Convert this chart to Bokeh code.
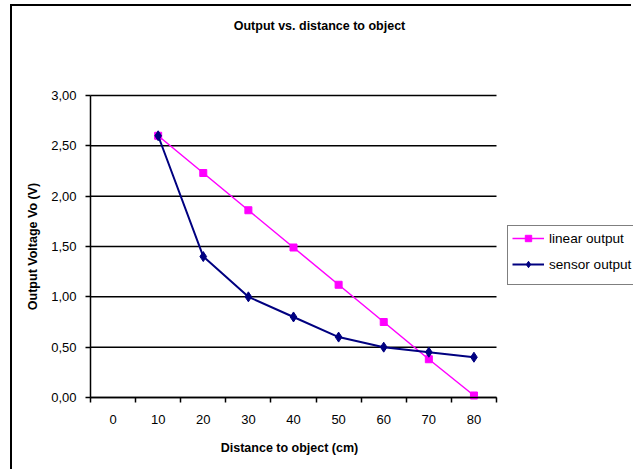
import math
from bokeh.plotting import figure
from bokeh.models import FixedTicker, Legend, LegendItem, Label, Range1d
from bokeh.embed import file_html
from bokeh.resources import INLINE

# ---- data ----
distance = [10, 20, 30, 40, 50, 60, 70, 80]
linear_output = [2.60, 2.23, 1.86, 1.49, 1.12, 0.75, 0.38, 0.02]
sensor_output = [2.60, 1.40, 1.00, 0.80, 0.60, 0.50, 0.45, 0.40]
x_ticks = [0, 10, 20, 30, 40, 50, 60, 70, 80]
x_tick_labels = ["0", "10", "20", "30", "40", "50", "60", "70", "80"]
y_ticks = [0.0, 0.5, 1.0, 1.5, 2.0, 2.5, 3.0]
y_tick_labels = ["0,00", "0,50", "1,00", "1,50", "2,00", "2,50", "3,00"]
title_text = "Output vs. distance to object"
x_title = "Distance to object (cm)"
y_title = "Output Voltage Vo (V)"
series_names = ["linear output", "sensor output"]

FONT = "Liberation Sans"
PINK = "#FF00FF"
NAVY = "#000080"

# axis extents (plot area); the frame covers the whole canvas so that the
# title, axis titles and legend can sit anywhere around the plot area
X_LO, X_HI = -5, 85
Y_LO, Y_HI = 0, 3
px_per_x = 406 / (X_HI - X_LO)
px_per_y = 302 / (Y_HI - Y_LO)
FRAME_W, FRAME_H = 621, 465
AXIS_LEFT_PX = 78             # column of x=-5 inside the frame
ZERO_FROM_TOP = 391           # row of y=0 inside the frame

p = figure(width=FRAME_W, height=FRAME_H, output_backend="svg", toolbar_location=None,
           x_range=Range1d(X_LO - AXIS_LEFT_PX / px_per_x,
                           X_LO + (FRAME_W - AXIS_LEFT_PX) / px_per_x),
           y_range=Range1d(-(FRAME_H - ZERO_FROM_TOP) / px_per_y, ZERO_FROM_TOP / px_per_y),
           min_border_left=0, min_border_right=0,
           min_border_top=0, min_border_bottom=0)
p.styles = {"margin-left": "10px", "margin-top": "4px",
            "border-left": "2px solid black", "border-top": "2px solid black"}
p.outline_line_color = None
p.background_fill_color = "white"
p.border_fill_color = "white"

# x axis: labels at category centres, tick marks between categories
half = (x_ticks[1] - x_ticks[0]) / 2
p.xaxis.fixed_location = Y_LO
p.xaxis.ticker = FixedTicker(ticks=x_ticks,
                             minor_ticks=[t - half for t in x_ticks] + [x_ticks[-1] + half])
p.xaxis.bounds = (X_LO, X_HI)
p.xaxis.major_label_overrides = {t: l for t, l in zip(x_ticks, x_tick_labels)}
p.xaxis.major_tick_out = 0
p.xaxis.major_tick_in = 0
p.xaxis.minor_tick_out = 5
p.xaxis.minor_tick_in = 0
p.xaxis.minor_tick_line_color = "black"
p.xaxis.minor_tick_line_width = 1.5
p.xaxis.major_label_standoff = 12

p.yaxis.fixed_location = X_LO
p.yaxis.ticker = FixedTicker(ticks=y_ticks, minor_ticks=[])
p.yaxis.bounds = (Y_LO, Y_HI)
p.yaxis.major_label_overrides = {t: l for t, l in zip(y_ticks, y_tick_labels)}
p.yaxis.major_tick_out = 5
p.yaxis.major_tick_in = 0
p.yaxis.major_label_standoff = 9

for ax in (p.xaxis, p.yaxis):
    ax.axis_line_color = "black"
    ax.axis_line_width = 1.5
    ax.major_tick_line_color = "black"
    ax.major_tick_line_width = 1.5
    ax.major_label_text_font = FONT
    ax.major_label_text_font_size = "13px"
    ax.major_label_text_color = "black"

p.xgrid.visible = False
p.ygrid.visible = False
# horizontal gridlines limited to the plot area
p.segment(x0=[X_LO] * len(y_ticks), x1=[X_HI] * len(y_ticks), y0=y_ticks, y1=y_ticks,
          line_color="black", line_width=1.5)

# series
l1 = p.line(distance, linear_output, line_color=PINK, line_width=1.5)
m1 = p.scatter(distance, linear_output, marker="square", size=7,
               fill_color=PINK, line_color=PINK)
l2 = p.line(distance, sensor_output, line_color=NAVY, line_width=2)
m2 = p.scatter(distance, sensor_output, marker="diamond", size=10,
               fill_color=NAVY, line_color=NAVY)

legend = Legend(items=[LegendItem(label=series_names[0], renderers=[l1, m1]),
                       LegendItem(label=series_names[1], renderers=[l2, m2])],
                location=(495, 186))
legend.label_text_font = FONT
legend.label_text_font_size = "13.6px"
legend.label_text_color = "black"
legend.glyph_width = 32
legend.glyph_height = 16
legend.label_height = 16
legend.label_standoff = 5
legend.spacing = 10
legend.padding = 4
legend.margin = 0
legend.border_line_color = "black"
legend.border_line_width = 1.5
legend.background_fill_color = "white"
legend.background_fill_alpha = 1
legend.title = " "
legend.title_location = "below"
legend.title_text_font_size = "7px"
legend.title_standoff = 1
p.add_layout(legend, "center")

bold = dict(x_units="screen", y_units="screen", text_align="center",
            text_baseline="middle", text_font=FONT, text_font_size="12.5px",
            text_font_style="bold", text_color="black")
p.add_layout(Label(x=307, y=446, text=title_text, **bold))
p.add_layout(Label(x=277, y=24, text=x_title, **bold))
p.add_layout(Label(x=20, y=225, text=y_title, angle=math.pi / 2, **bold))

open("out.html", "w").write(file_html(p, INLINE))
